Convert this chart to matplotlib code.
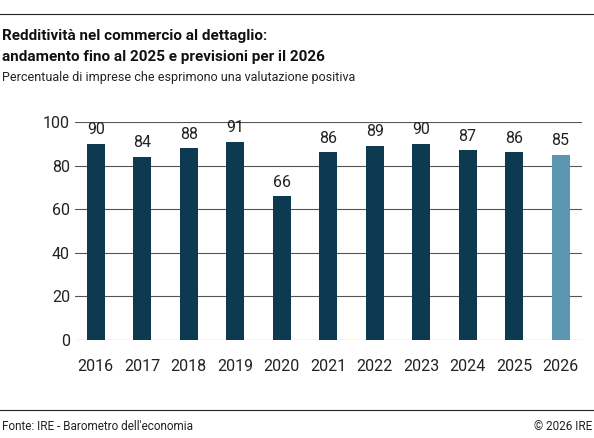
import matplotlib.pyplot as plt
from matplotlib.lines import Line2D

years = ['2016', '2017', '2018', '2019', '2020', '2021', '2022', '2023', '2024', '2025', '2026']
values = [90, 84, 88, 91, 66, 86, 89, 90, 87, 86, 85]
colors = ['#0d3a50'] * 10 + ['#5a96b0']

plt.rcParams['font.family'] = ['Roboto', 'DejaVu Sans']
fig = plt.figure(figsize=(5.94, 4.38), dpi=100)
ax = fig.add_axes([0.126, 0.224, 0.853, 0.4975])

ax.set_axisbelow(True)
ax.grid(axis='y', color='#555555', linewidth=0.8)
bars = ax.bar(range(len(years)), values, width=0.39, color=colors)
for b, v in zip(bars, values):
    ax.text(b.get_x() + b.get_width() / 2, v + 3, str(v), ha='center', va='bottom',
            fontsize=11.5, color='#222222')

ax.set_xlim(-0.45, 10.45)
ax.set_ylim(0, 100)
ax.set_yticks(range(0, 101, 20))
ax.set_xticks(range(len(years)), years)
ax.tick_params(length=0, labelsize=11.5, colors='#222222')
ax.tick_params(axis='x', pad=14)
for s in ax.spines.values():
    s.set_visible(False)

fig.add_artist(Line2D([0, 1], [1 - 14 / 438] * 2, color='#222222', linewidth=0.8))
fig.add_artist(Line2D([0, 1], [1 - 410 / 438] * 2, color='#222222', linewidth=0.8))
fig.text(0.003, 1 - 36 / 438, 'Redditività nel commercio al dettaglio:', fontsize=11,
         fontweight='bold', va='center', color='#111111')
fig.text(0.003, 1 - 57 / 438, 'andamento fino al 2025 e previsioni per il 2026', fontsize=11,
         fontweight='bold', va='center', color='#111111')
fig.text(0.003, 1 - 78 / 438, 'Percentuale di imprese che esprimono una valutazione positiva',
         fontsize=9, va='center', color='#222222')
fig.text(0.003, 1 - 427 / 438, "Fonte: IRE - Barometro dell'economia", fontsize=8.5,
         va='center', color='#222222')
fig.text(0.997, 1 - 427 / 438, '© 2026 IRE', fontsize=8.5, va='center', ha='right',
         color='#222222')

fig.savefig('out.png', dpi=100)
